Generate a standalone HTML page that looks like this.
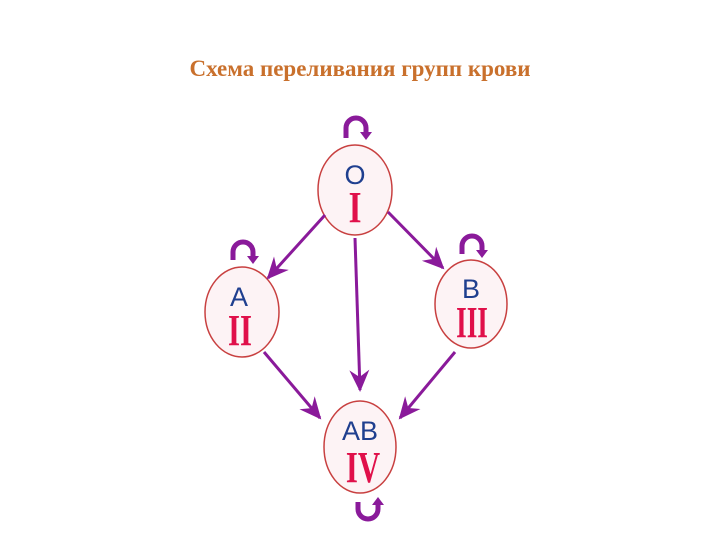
<!DOCTYPE html>
<html><head><meta charset="utf-8"><style>
body{margin:0;width:720px;height:540px;background:#fff;overflow:hidden;position:relative}
.t{position:absolute;left:0;width:720px;top:56px;text-align:center;font-family:"Liberation Serif",serif;font-weight:bold;font-size:23px;color:#c9702c}
svg{position:absolute;left:0;top:0}
</style></head><body>
<div class="t">Схема переливания групп крови</div>
<svg width="720" height="540" viewBox="0 0 720 540">
<defs>
<marker id="b" markerWidth="22" markerHeight="22" refX="20" refY="11" orient="auto" markerUnits="userSpaceOnUse" viewBox="0 0 22 22">
<path d="M0,1 L22,11 L0,21 L7,11 z" fill="#8a1a9a"/></marker>
</defs>
<g fill="#fdf3f5" stroke="#c84040" stroke-width="1.5">
<ellipse cx="355" cy="190" rx="37" ry="45"/>
<ellipse cx="242" cy="312" rx="37" ry="45"/>
<ellipse cx="471" cy="304" rx="36" ry="44"/>
<ellipse cx="360" cy="447" rx="36" ry="46"/>
</g>
<g stroke="#8a1a9a" stroke-width="3" fill="none" marker-end="url(#b)">
<line x1="325" y1="215" x2="268" y2="278"/>
<line x1="388" y1="212" x2="443" y2="268"/>
<line x1="355" y1="238" x2="360" y2="390"/>
<line x1="264" y1="352" x2="320" y2="418"/>
<line x1="455" y1="352" x2="400" y2="418"/>
</g>
<g stroke="#8a1a9a" stroke-width="5" fill="none">
<path d="M346,138 L346,128 A10,10 0 0 1 366,128 L366,132"/>
<path d="M233,260 L233,252 A10,10 0 0 1 253,252 L253,256"/>
<path d="M462,254 L462,246 A10,10 0 0 1 482,246 L482,250"/>
<path d="M358,502 L358,509 A10,10 0 0 0 378,509 L378,505"/>
</g>
<g fill="#8a1a9a">
<path d="M360,132 L372,132 L366,140z"/>
<path d="M247,256 L259,256 L253,264z"/>
<path d="M476,250 L488,250 L482,258z"/>
<path d="M372,505 L384,505 L378,497z"/>
</g>
<g font-family="Liberation Sans,sans-serif" font-size="27" fill="#1f3f8f" text-anchor="middle">
<text x="355" y="184">O</text>
<text x="239" y="306">A</text>
<text x="471" y="298">B</text>
<text x="360" y="440">AB</text>
</g>
<g font-family="Liberation Serif,serif" font-weight="bold" font-size="44" fill="#e0104a" text-anchor="middle">
<text transform="translate(355,222) scale(0.75,1)">I</text>
<text transform="translate(240,345) scale(0.7,1)">II</text>
<text transform="translate(472,337) scale(0.62,1)">III</text>
<text transform="translate(363,482) scale(0.7,1)">IV</text>
</g>
</svg>
</body></html>
